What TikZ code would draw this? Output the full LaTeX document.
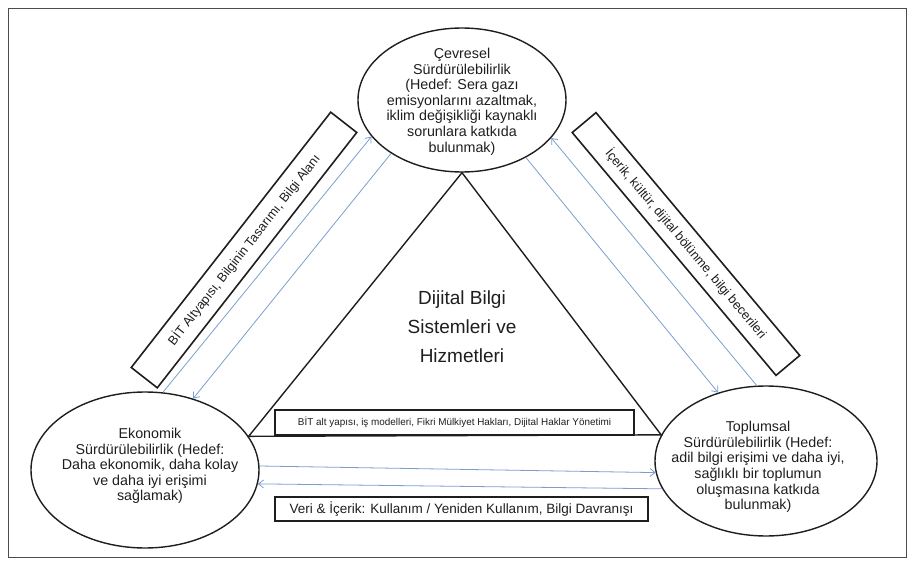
\documentclass[tikz,border=0pt]{standalone}
\usepackage{fontspec}
\setmainfont{Liberation Sans}
\usetikzlibrary{shapes.geometric,arrows.meta}
\definecolor{arrowblue}{RGB}{125,158,205}
\definecolor{inkline}{RGB}{30,30,30}
\begin{document}
\begin{tikzpicture}[x=1pt,y=-1pt,
  ell/.style={draw=inkline, line width=1.4pt, ellipse, inner sep=0pt},
  etxt/.style={align=center, inner sep=0pt, text=inkline, font=\fontsize{14.3}{15.6}\selectfont},
  lbl/.style={draw=inkline, line width=1.6pt, rectangle, inner sep=0pt, text=inkline},
  flow/.style={draw=arrowblue, line width=0.8pt, -{Straight Barb[length=5pt,width=8pt]}},
  tri/.style={draw=inkline, line width=1.4pt, line join=miter}]
\useasboundingbox (0,0) rectangle (914,567);
\draw[line width=1pt, draw=black!70] (8,9) rectangle (906,557);

% ellipses
\node[ell, minimum width=208pt, minimum height=144pt] (T) at (462,100) {};
\node[ell, minimum width=228pt, minimum height=156pt] (L) at (145,470) {};
\node[ell, minimum width=222pt, minimum height=150pt] (R) at (766,461) {};

\node[etxt] (Tt) at (462,101.5) {Çevresel\\Sürdürülebilirlik\\(Hedef: Sera gazı\\emisyonlarını azaltmak,\\iklim değişikliği kaynaklı\\sorunlara katkıda\\bulunmak)};
\node[etxt] (Lt) at (150,466) {Ekonomik\\Sürdürülebilirlik (Hedef:\\Daha ekonomik, daha kolay\\ve daha iyi erişimi\\sağlamak)};
\node[etxt] (Rt) at (758,467) {Toplumsal\\Sürdürülebilirlik (Hedef:\\adil bilgi erişimi ve daha iyi,\\sağlıklı bir toplumun\\oluşmasına katkıda\\bulunmak)};

% triangle
\draw[tri] (T.south) -- (L.18) -- (R.166) -- cycle;

\node[align=center, inner sep=0pt, text=inkline, font=\fontsize{19}{29}\selectfont] (C) at (462,327) {Dijital Bilgi\\Sistemleri ve\\Hizmetleri};

% label boxes
\node[lbl, minimum width=324pt, minimum height=33pt, rotate=52, font=\fontsize{12.8}{14}\selectfont] (LB) at (244,250) {BİT Altyapısı, Bilginin Tasarımı, Bilgi Alanı};
\node[lbl, minimum width=317pt, minimum height=31pt, rotate=-50, font=\fontsize{12.8}{14}\selectfont] (RB) at (686,244) {İçerik, kültür, dijital bölünme, bilgi becerileri};
\node[lbl, minimum width=359pt, minimum height=25pt, font=\fontsize{9.9}{11}\selectfont] (B1) at (454.5,422.5) {BİT alt yapısı, iş modelleri, Fikri Mülkiyet Hakları, Dijital Haklar Yönetimi};
\node[lbl, minimum width=373pt, minimum height=24pt, font=\fontsize{13.5}{15}\selectfont] (B2) at (461.5,509) {Veri \& İçerik: Kullanım / Yeniden Kullanım, Bilgi Davranışı};

% flows
\draw[flow] (L.77.7) -- (T.202.9);
\draw[flow] (T.217.2) -- (L.56.3);
\draw[flow] (T.318.6) -- (R.125.9);
\draw[flow] (R.97.5) -- (T.337.1);
\draw[flow] (L.2.5) -- (R.186);
\draw[flow] (R.195) -- (L.-7.7);
\end{tikzpicture}
\end{document}
